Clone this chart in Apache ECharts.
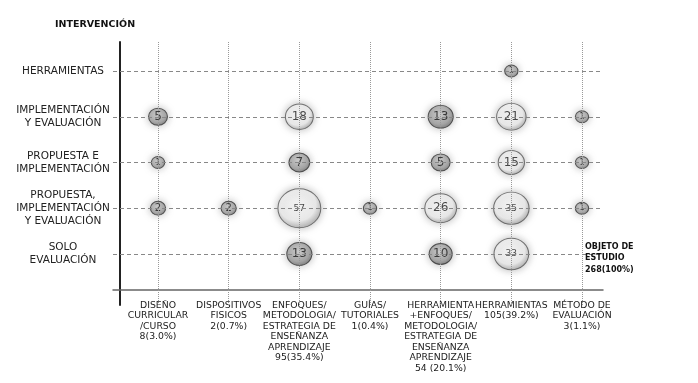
<!DOCTYPE html>
<html lang="es">
    <head>
        <meta charset="UTF-8">
        <title>Intervención / Objeto de estudio</title>
        <script src="https://cdn.jsdelivr.net/npm/echarts@6/dist/echarts.min.js"></script>
        <style>
            html, body {
                margin: 0;
                height: 100%;
                background: #fff;
            }
        </style>
    </head>
    <body>
        <div id="main" style="width: 698px;height: 383px;"></div>
    </body>
</html>
<script>
    // categorias del eje x (objeto de estudio)
    var xCats = [
        'DISEÑO\nCURRICULAR\n/CURSO\n8(3.0%)',
        'DISPOSITIVOS\nFISICOS\n2(0.7%)',
        'ENFOQUES/\nMETODOLOGIA/\nESTRATEGIA DE\nENSEÑANZA\nAPRENDIZAJE\n95(35.4%)',
        'GUÍAS/\nTUTORIALES\n1(0.4%)',
        'HERRAMIENTA\n+ENFOQUES/\nMETODOLOGIA/\nESTRATEGIA DE\nENSEÑANZA\nAPRENDIZAJE\n54 (20.1%)',
        'HERRAMIENTAS\n105(39.2%)',
        'MÉTODO DE\nEVALUACIÓN\n3(1.1%)'
    ];
    // categorias del eje y (intervencion), de arriba hacia abajo
    var yCats = [
        'HERRAMIENTAS',
        'IMPLEMENTACIÓN\nY EVALUACIÓN',
        'PROPUESTA E\nIMPLEMENTACIÓN',
        'PROPUESTA,\nIMPLEMENTACIÓN\nY EVALUACIÓN',
        'SOLO\nEVALUACIÓN'
    ];
    // [indice x, indice y, valor]
    var rowHerramientas = [[5, 0, 1]];
    var rowImplEval = [[0, 1, 5], [2, 1, 18], [4, 1, 13], [5, 1, 21], [6, 1, 1]];
    var rowPropImpl = [[0, 2, 1], [2, 2, 7], [4, 2, 5], [5, 2, 15], [6, 2, 1]];
    var rowPropImplEval = [[0, 3, 2], [1, 3, 2], [2, 3, 57], [3, 3, 1], [4, 3, 26], [5, 3, 35], [6, 3, 1]];
    var rowSoloEval = [[2, 4, 13], [4, 4, 10], [5, 4, 33]];

    var totalText = 'OBJETO DE\nESTUDIO\n268(100%)';

    var font = 'DejaVu Sans';

    var bubbles = [].concat(rowHerramientas, rowImplEval, rowPropImpl, rowPropImplEval, rowSoloEval);

    function diam(v) {
        return 8 + 4.1 * Math.sqrt(v);
    }

    function labelSize(v) {
        if (v == 1) return 8;
        if (v == 2) return 10;
        if (v > 30) return 9;
        return 12;
    }

    var bubbleData = bubbles.map(function (d) {
        var gray = d[2] < 15;
        return {
            value: d,
            itemStyle: {
                color: {
                    type: 'radial', x: 0.45, y: 0.4, r: 0.6,
                    colorStops: gray ? [
                        {offset: 0, color: '#d0d0d0'},
                        {offset: 0.7, color: '#a0a0a0'},
                        {offset: 1, color: '#707070'}
                    ] : [
                        {offset: 0, color: '#ffffff'},
                        {offset: 0.7, color: '#f4f4f4'},
                        {offset: 1, color: '#aaaaaa'}
                    ]
                },
                borderColor: gray ? '#333' : '#555',
                borderWidth: 1,
                shadowBlur: 8,
                shadowColor: 'rgba(0,0,0,0.35)'
            },
            label: {fontSize: labelSize(d[2])}
        };
    });

    var vLines = xCats.map(function (c, i) { return {xAxis: i}; });
    var hLines = yCats.map(function (c, i) { return {yAxis: i}; });

    var myChart = echarts.init(document.getElementById('main'));

    var option = {
        animation: false,
        title: [
            {
                text: 'INTERVENCIÓN',
                left: 50, top: 15,
                textStyle: {fontFamily: font, fontSize: 9.5, fontWeight: 'bold', color: '#111'}
            },
            {
                text: totalText,
                left: 580, top: 236,
                textStyle: {fontFamily: font, fontSize: 8, fontWeight: 'bold', color: '#111', lineHeight: 11.5}
            }
        ],
        grid: {left: 113, right: 95, top: 42, bottom: 78},
        xAxis: {
            type: 'value',
            min: -0.637,
            max: 6.297,
            offset: -15,
            axisLine: {show: true, onZero: false, lineStyle: {color: '#666', width: 1.5}},
            axisTick: {show: false},
            splitLine: {show: false},
            axisLabel: {
                customValues: xCats.map(function (c, i) { return i; }),
                formatter: function (v) { return xCats[Math.round(v)]; },
                margin: 10,
                verticalAlign: 'top',
                align: 'center',
                fontFamily: font,
                fontSize: 9.3,
                lineHeight: 10.5,
                color: '#222'
            }
        },
        yAxis: {
            type: 'value',
            inverse: true,
            min: -0.634,
            max: 5.115,
            offset: -7,
            axisLine: {show: true, onZero: false, lineStyle: {color: '#222', width: 2}},
            axisTick: {show: false},
            splitLine: {show: false},
            axisLabel: {
                customValues: yCats.map(function (c, i) { return i; }),
                formatter: function (v) { return yCats[Math.round(v)]; },
                margin: 57,
                align: 'center',
                fontFamily: font,
                fontSize: 10.5,
                lineHeight: 13,
                color: '#222'
            }
        },
        series: [
            {
                type: 'line',
                data: [],
                z: 1,
                markLine: {
                    silent: true,
                    symbol: 'none',
                    label: {show: false},
                    animation: false,
                    data: vLines,
                    lineStyle: {color: '#999', type: 'dotted', width: 1}
                }
            },
            {
                type: 'line',
                data: [],
                z: 1,
                markLine: {
                    silent: true,
                    symbol: 'none',
                    label: {show: false},
                    animation: false,
                    data: hLines,
                    lineStyle: {color: '#888', type: [4, 3], width: 1}
                }
            },
            {
                type: 'scatter',
                z: 3,
                data: bubbleData,
                symbolSize: function (d) {
                    var s = diam(d[2]);
                    return [s * 1.1, s];
                },
                label: {
                    show: true,
                    position: 'inside',
                    formatter: function (p) { return p.value[2]; },
                    fontFamily: font,
                    color: '#1a1a1a'
                }
            }
        ]
    };

    myChart.setOption(option);
</script>
